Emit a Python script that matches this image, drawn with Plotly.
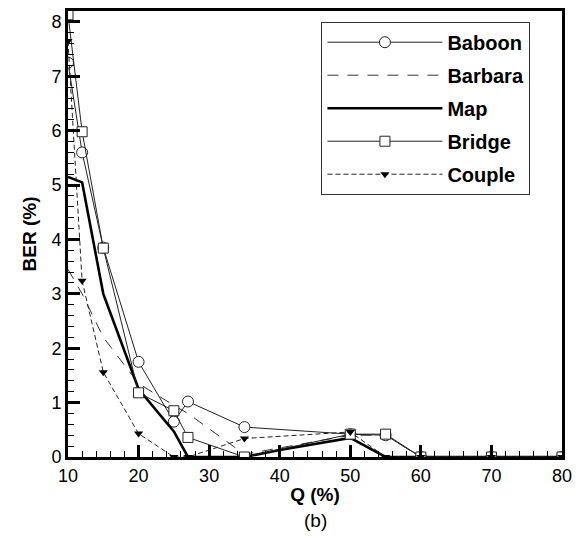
import plotly.graph_objects as go

baboon_x = [10, 12, 15, 20, 25, 27, 35, 50, 55, 60, 70, 80]
baboon_y = [7.25, 5.6, 3.85, 1.75, 0.65, 1.02, 0.55, 0.42, 0.40, 0, 0, 0]

barbara_x = [10, 12, 15, 20, 25, 27, 35, 50, 55, 60, 70, 80]
barbara_y = [3.45, 3.0, 2.2, 1.35, 0.95, 0.8, 0.05, 0.40, 0.40, 0, 0, 0]

map_x = [10, 12, 15, 20, 25, 27, 35, 40, 50, 55, 60, 70, 80]
map_y = [5.15, 5.05, 3.0, 1.25, 0.47, 0, 0, 0.13, 0.35, 0, 0, 0, 0]

bridge_x = [10, 12, 15, 20, 25, 27, 35, 50, 55, 60, 70, 80]
bridge_y = [8.13, 5.98, 3.84, 1.18, 0.85, 0.36, 0.0, 0.42, 0.42, 0, 0, 0]

couple_x = [10, 12, 15, 20, 25, 27, 35, 50, 55, 60, 70, 80]
couple_y = [7.65, 3.24, 1.56, 0.43, 0, 0, 0.34, 0.46, 0, 0, 0, 0]

x_ticks = [10, 20, 30, 40, 50, 60, 70, 80]
y_ticks = [0, 1, 2, 3, 4, 5, 6, 7, 8]

FONT = "Liberation Sans, Arial, sans-serif"

fig = go.Figure()

fig.add_trace(go.Scatter(
    x=baboon_x, y=baboon_y, name="Baboon", legendgroup="a",
    mode="lines+markers",
    line=dict(color="#222", width=1),
    marker=dict(symbol="circle", size=11, color="white", line=dict(color="#222", width=1)),
))
fig.add_trace(go.Scatter(
    x=barbara_x, y=barbara_y, name="Barbara", legendgroup="b",
    mode="lines",
    line=dict(color="#333", width=1, dash="11px,9px"),
))
fig.add_trace(go.Scatter(
    x=map_x, y=map_y, name="Map", legendgroup="c",
    mode="lines",
    line=dict(color="black", width=2.6),
))
fig.add_trace(go.Scatter(
    x=bridge_x, y=bridge_y, name="Bridge", legendgroup="d",
    mode="lines+markers",
    line=dict(color="#222", width=1),
    marker=dict(symbol="square", size=10, color="white", line=dict(color="#222", width=1)),
))
fig.add_trace(go.Scatter(
    x=couple_x, y=couple_y, name="Couple", legendgroup="e",
    mode="lines+markers",
    line=dict(color="#222", width=1, dash="5px,3px"),
    marker=dict(symbol="triangle-down", size=8, color="black", line=dict(width=0)),
))

fig.update_layout(
    width=580, height=538,
    margin=dict(l=68, r=17, t=8, b=81),
    paper_bgcolor="white", plot_bgcolor="white",
    font=dict(family=FONT, size=18, color="black"),
    showlegend=True,
    legend=dict(
        x=0.513, y=0.976, xanchor="left", yanchor="top",
        bordercolor="#333", borderwidth=1, bgcolor="white",
        font=dict(family=FONT, size=20, weight="bold", color="black"),
        traceorder="grouped", tracegroupgap=4,
        itemwidth=115,
    ),
    xaxis=dict(
        range=[10, 80], tickvals=x_ticks,
        ticks="inside", ticklen=12, tickwidth=3, tickcolor="black",
        minor=dict(ticks="inside", ticklen=6, tickwidth=1, dtick=2, tickcolor="black"),
        showline=True, linewidth=3, linecolor="black", mirror=True,
        showgrid=False, zeroline=False,
        tickfont=dict(size=18),
        title=dict(text="Q (%)", font=dict(size=19, weight="bold"), standoff=4),
    ),
    yaxis=dict(
        range=[0, 8.2], tickvals=y_ticks,
        ticks="inside", ticklen=12, tickwidth=3, tickcolor="black",
        minor=dict(ticks="inside", ticklen=6, tickwidth=1, dtick=0.2, tickcolor="black"),
        showline=True, linewidth=3, linecolor="black", mirror=True,
        showgrid=False, zeroline=False,
        tickfont=dict(size=18),
        title=dict(text="BER (%)", font=dict(size=19, weight="bold"), standoff=10),
    ),
    annotations=[dict(
        text="(b)", xref="paper", yref="paper", x=0.5, y=-0.115,
        xanchor="center", yanchor="top", showarrow=False,
        font=dict(family=FONT, size=19),
    )],
)

fig.write_html("out.html")
